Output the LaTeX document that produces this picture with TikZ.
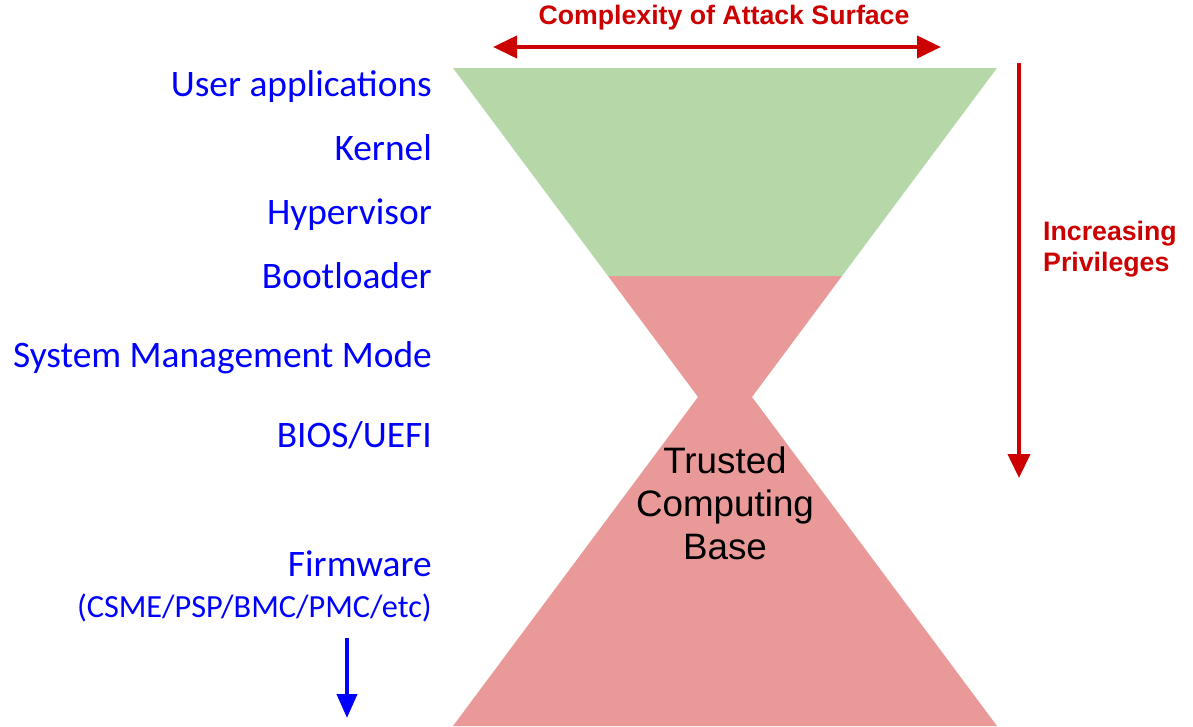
\documentclass[tikz,border=0pt]{standalone}
\usepackage{fontspec}
\setmainfont{Carlito}
\newfontfamily\arialfont{Liberation Sans}
\usetikzlibrary{arrows.meta}
\definecolor{topgreen}{HTML}{B6D7A8}
\definecolor{basered}{HTML}{EA9999}
\definecolor{darkred}{HTML}{CC0000}
\definecolor{layerblue}{HTML}{0000FF}
\begin{document}
\begin{tikzpicture}[x=1pt,y=-1pt,
  layer/.style={anchor=base east,inner sep=0pt,text=layerblue,font=\fontsize{37.4}{40}\selectfont},
  redlabel/.style={inner sep=0pt,text=darkred,font=\arialfont\bfseries\fontsize{26.7}{31}\selectfont},
  redarrow/.style={draw=darkred,line width=4pt,-{Triangle[length=24pt,width=22pt]}},
  bluearrow/.style={draw=layerblue,line width=4pt,-{Triangle[length=24pt,width=20pt]}}]
\useasboundingbox (0,0) rectangle (1193,726);
% hourglass: lower (red) part with the neck, upper (green) part
\fill[basered] (608,276) -- (842,276) -- (752,397) -- (997,726) -- (453,726) -- (698,397) -- cycle;
\fill[topgreen] (453,68) -- (997,68) -- (842,276) -- (608,276) -- cycle;
\node[align=center,inner sep=0pt,font=\arialfont\fontsize{36.8}{43}\selectfont] (tcb) at (725,503) {Trusted\\Computing\\Base};
% attack surface arrow
\coordinate (asl) at (493,47);
\coordinate (asr) at (941,47);
\draw[redarrow,{Triangle[length=24pt,width=22pt]}-{Triangle[length=24pt,width=22pt]}] (asl) -- (asr);
\node[redlabel] (ast) at (724,18) {Complexity of Attack Surface};
% privilege arrow
\coordinate (pvt) at (1019,63);
\coordinate (pvb) at (1019,478);
\draw[redarrow] (pvt) -- (pvb);
\node[redlabel,anchor=west,align=left] (pvl) at (1043,249) {Increasing\\Privileges};
% software layers
\node[layer] (ua) at (432,96) {User applications};
\node[layer] (kn) at (432,160) {Kernel};
\node[layer] (hv) at (432,224) {Hypervisor};
\node[layer] (bl) at (432,288) {Bootloader};
\node[layer] (smm) at (432,367) {System Management Mode};
\node[layer] (bios) at (432,447) {BIOS/UEFI};
\node[layer] (fw) at (432,576) {Firmware};
\node[layer,font=\fontsize{32.3}{34}\selectfont] (fwd) at (432,617) {(CSME/PSP/BMC/PMC/etc)};
\coordinate (fat) at (347,638);
\coordinate (fab) at (347,718);
\draw[bluearrow] (fat) -- (fab);
\end{tikzpicture}
\end{document}
